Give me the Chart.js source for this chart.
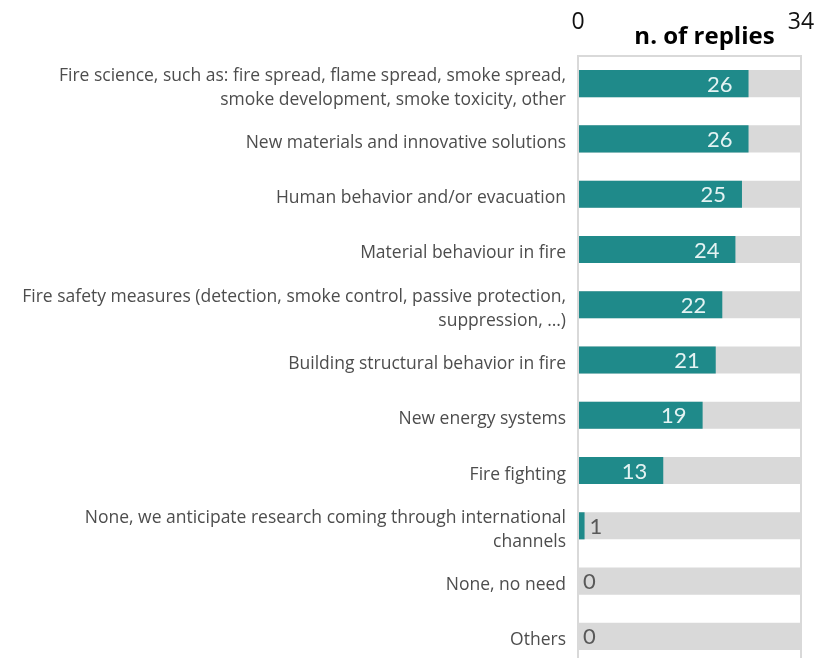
<!doctype html>
<html lang="en">
    <head>
        <meta charset="UTF-8" />
        <title>n. of replies</title>
        <style>
            html, body { margin: 0; padding: 0; background: #fff; overflow: hidden; }
            #wrap { width: 818px; height: 658px; overflow: hidden; }
            #box { width: 818px; height: 666px; }
        </style>
    </head>
    <body>
        <div id="wrap">
            <div id="box"><canvas id="repliesChart"></canvas></div>
        </div>

        <script src="https://cdn.jsdelivr.net/npm/chart.js"></script>
        <script>
            // categories (multi-line ones split the way the picture wraps them)
            const categories = [
                ["Fire science, such as: fire spread, flame spread, smoke spread,", "smoke development, smoke toxicity, other"],
                "New materials and innovative solutions",
                "Human behavior and/or evacuation",
                "Material behaviour in fire",
                ["Fire safety measures (detection, smoke control, passive protection,", "suppression, …)"],
                "Building structural behavior in fire",
                "New energy systems",
                "Fire fighting",
                ["None, we anticipate research coming through international", "channels"],
                "None, no need",
                "Others",
            ];
            const replies = [26, 26, 25, 24, 22, 21, 19, 13, 1, 0, 0];
            const maxReplies = [34, 34, 34, 34, 34, 34, 34, 34, 34, 34, 34];
            const tickValues = [0, 34];
            const axisTitle = "n. of replies";

            const teal = "#1f8a8a";
            const grey = "#d9d9d9";

            // value labels + axis title drawn by hand
            const labelPlugin = {
                id: "valueLabels",
                afterDatasetsDraw(chart) {
                    const ctx = chart.ctx;
                    const meta = chart.getDatasetMeta(0);
                    ctx.save();
                    ctx.font = "22px Lato";
                    ctx.textBaseline = "middle";
                    meta.data.forEach((bar, i) => {
                        const v = replies[i];
                        if (v > 1) {
                            ctx.fillStyle = "#e4f3f3";
                            ctx.textAlign = "right";
                            ctx.fillText(String(v), bar.x - 16, bar.y + 1);
                        } else {
                            ctx.fillStyle = "#595959";
                            ctx.textAlign = "left";
                            ctx.fillText(String(v), bar.x + 5, bar.y + 1);
                        }
                    });
                    const area = chart.chartArea;
                    ctx.fillStyle = "#000";
                    ctx.textAlign = "center";
                    ctx.textBaseline = "alphabetic";
                    ctx.font = "bold 24px 'Open Sans'";
                    ctx.fillText(axisTitle, (area.left + area.right) / 2 + 15, area.top - 12);
                    ctx.restore();
                },
            };

            const ctx = document.getElementById("repliesChart").getContext("2d");
            const chart = new Chart(ctx, {
                type: "bar",
                data: {
                    labels: categories,
                    datasets: [
                        {
                            label: "replies",
                            data: replies,
                            backgroundColor: teal,
                            order: 1,
                            grouped: false,
                            barPercentage: 0.49,
                            categoryPercentage: 1,
                        },
                        {
                            label: "max",
                            data: maxReplies,
                            backgroundColor: grey,
                            order: 2,
                            grouped: false,
                            barPercentage: 0.49,
                            categoryPercentage: 1,
                        },
                    ],
                },
                options: {
                    indexAxis: "y",
                    responsive: true,
                    maintainAspectRatio: false,
                    animation: false,
                    layout: { padding: { top: 0, right: 17, bottom: 2, left: 0 } },
                    plugins: {
                        legend: { display: false },
                        tooltip: { enabled: false },
                    },
                    scales: {
                        x: {
                            position: "top",
                            min: 0,
                            max: 34,
                            afterBuildTicks(scale) {
                                scale.ticks = tickValues.map((v) => ({ value: v }));
                            },
                            afterFit(scale) {
                                scale.height = 56;
                                scale.paddingLeft = 0;
                                scale.paddingRight = 0;
                            },
                            ticks: {
                                color: "#111",
                                font: { family: "Open Sans", size: 23 },
                                padding: 20,
                                maxRotation: 0,
                            },
                            grid: { color: grey, lineWidth: 2, drawTicks: false },
                            border: { display: true, color: grey, width: 2 },
                        },
                        y: {
                            afterFit(scale) {
                                scale.width = 578;
                                scale.paddingTop = 0;
                                scale.paddingBottom = 0;
                            },
                            ticks: {
                                color: "#4d4d4d",
                                font: { family: "Open Sans", size: 17.5, lineHeight: 1.37 },
                                padding: 4,
                                labelOffset: 4,
                                autoSkip: false,
                            },
                            grid: { display: false },
                            border: { display: false },
                        },
                    },
                },
                plugins: [labelPlugin],
            });
        </script>
    </body>
</html>
